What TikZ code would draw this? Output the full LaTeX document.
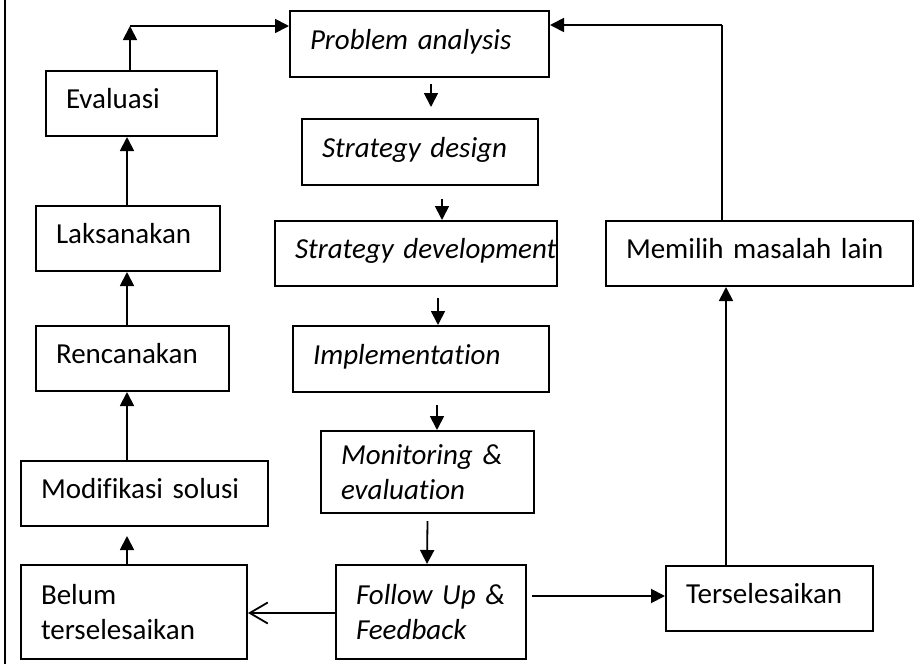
\documentclass[tikz,border=0pt]{standalone}
\usepackage{fontspec}
\setmainfont{Carlito}[Ligatures=NoCommon]
\usepackage{tikz}
\usetikzlibrary{arrows.meta,calc}
\tikzset{
  stage/.style={draw,line width=2pt,inner xsep=20pt,inner ysep=0pt,align=left,
    font=\fontsize{29pt}{35pt}\selectfont},
  stage_one/.style={stage,text height=19pt,text depth=9pt},
  arr/.style={-{Triangle[length=14pt,width=14pt]},line width=1.8pt},
  arr_open/.style={-{Straight Barb[length=18pt,width=21pt]},line width=1.8pt},
}

\begin{document}
\begin{tikzpicture}[x=1pt,y=-1pt]
  \useasboundingbox (0,0) rectangle (919,664);
  \draw[line width=1.5pt] (5,0) -- (5,664);

  % main cycle
  \node[stage_one,text width=219pt,minimum height=66pt] (prob) at (419.5,44) {\itshape\mbox{Problem analysis}};
  \node[stage_one,text width=196pt,minimum height=66pt] (sdes) at (420,152) {\itshape\mbox{Strategy design}};
  \node[stage_one,text width=242pt,minimum height=65pt] (sdev) at (416,253.5) {\itshape\mbox{Strategy development}};
  \node[stage_one,text width=216pt,minimum height=66pt] (impl) at (421,359) {\itshape\mbox{Implementation}};
  \node[stage,text width=173pt,minimum height=82pt] (mon) at (427.5,472) {\itshape\mbox{Monitoring \&}\\ \itshape evaluation};
  \node[stage,text width=150pt,minimum height=94pt] (fol) at (431,612) {\itshape\mbox{Follow Up \&}\\ \itshape Feedback};

  % right branch
  \node[stage_one,text width=167pt,minimum height=65pt] (ters) at (769.5,598.5) {\mbox{Terselesaikan}};
  \node[stage_one,text width=267pt,minimum height=65pt] (lain) at (759.5,253.5) {\mbox{Memilih masalah lain}};

  % left branch
  \node[stage,text width=186pt,minimum height=94pt] (belum) at (134,612) {Belum\\ \mbox{terselesaikan}};
  \node[stage_one,text width=207pt,minimum height=65pt] (modi) at (144.5,493.5) {\mbox{Modifikasi solusi}};
  \node[stage_one,text width=153pt,minimum height=65pt] (renc) at (132.5,358.5) {\mbox{Rencanakan}};
  \node[stage_one,text width=144pt,minimum height=65pt] (laks) at (128,238.5) {\mbox{Laksanakan}};
  \node[stage_one,text width=131pt,minimum height=65pt] (eval) at (131.5,103.5) {\mbox{Evaluasi}};

  \coordinate (lcorner) at (130,26);
  \coordinate (rcorner) at (722,25);
  \coordinate (fr) at ($(fol.east)+(5,-16)$);
  \coordinate (fl) at ($(fol.west)+(0,1)$);
  \coordinate (lx) at (127,0);
  \coordinate (rx) at (726,0);

  \draw[arr] ($(prob.south)+(11.5,6)$) -- ($(sdes.north)+(11,-11)$);
  \draw[arr] ($(sdes.south)+(22,13)$) -- ($(sdev.north)+(26,0)$);
  \draw[arr] ($(sdev.south)+(22,11)$) -- ($(impl.north)+(17,0)$);
  \draw[arr] ($(impl.south)+(16,12)$) -- ($(mon.north)+(9.5,0)$);
  \draw[arr] ($(mon.south)+(0,7)$) -- ($(fol.north)+(-4,0)$);

  \draw[arr] (fr) -- (ters.west |- fr);
  \draw[arr_open] (fl) -- (belum.east |- fl);
  \draw[arr] (ters.north -| rx) -- (lain.south -| rx);
  \draw[line width=1.8pt] (lain.north -| rcorner) -- (rcorner);
  \draw[arr] (rcorner) -- (prob.east |- rcorner);

  \draw[arr] (belum.north -| lx) -- ($(modi.south -| lx)+(0,9)$);
  \draw[arr] (modi.north -| lx) -- (renc.south -| lx);
  \draw[arr] (renc.north -| lx) -- (laks.south -| lx);
  \draw[arr] (laks.north -| lx) -- (eval.south -| lx);
  \draw[arr] (eval.north -| lcorner) -- (lcorner);
  \draw[arr] (lcorner) -- (prob.west |- lcorner);
\end{tikzpicture}
\end{document}
